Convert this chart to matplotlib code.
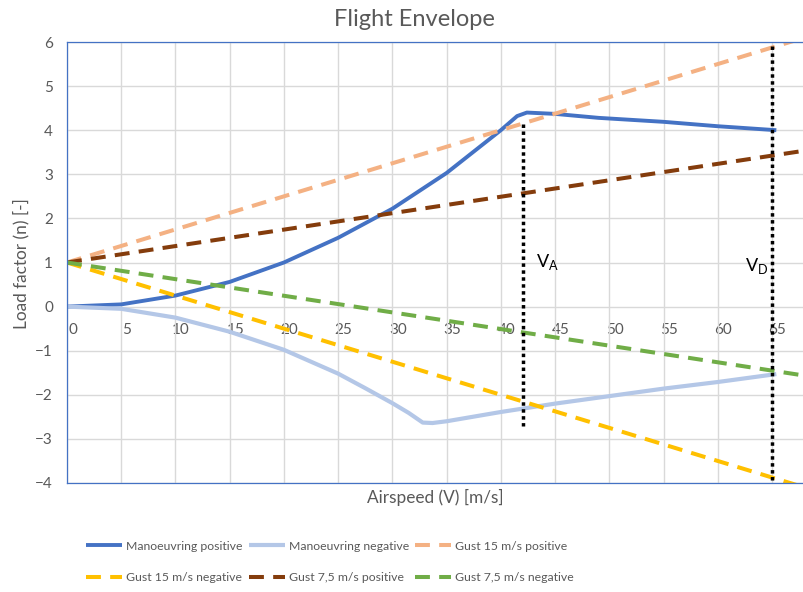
import matplotlib
matplotlib.use("Agg")
import matplotlib.pyplot as plt
from matplotlib.transforms import ScaledTranslation

plt.rcParams['font.family'] = ['Lato', 'DejaVu Sans']

# ---- data ----
man_pos_v = [0, 5, 10, 15, 20, 25, 30, 35, 40, 41.5, 42.4, 45, 49, 55, 60, 65.4]
man_pos_n = [0, 0.05, 0.25, 0.56, 1.0, 1.56, 2.22, 3.03, 4.0, 4.32, 4.4, 4.37, 4.28, 4.19, 4.09, 4.0]

man_neg_v = [0, 5, 10, 15, 20, 25, 27.5, 30, 31.5, 32.8, 33.7, 35, 40, 45, 50, 55, 60, 65.4]
man_neg_n = [0, -0.05, -0.25, -0.57, -0.98, -1.52, -1.85, -2.19, -2.41, -2.63, -2.64, -2.6,
             -2.39, -2.2, -2.03, -1.86, -1.71, -1.53]

gust15_pos_v = [0, 70]
gust15_pos_n = [1, 6.25]
gust15_neg_v = [0, 70]
gust15_neg_n = [1, -4.25]
gust75_pos_v = [0, 70]
gust75_pos_n = [1, 3.61]
gust75_neg_v = [0, 70]
gust75_neg_n = [1, -1.64]

va_v = [42, 42]
va_n = [4.15, -2.7]
vd_v = [65, 65]
vd_n = [5.9, -4.0]

x_ticks = list(range(0, 70, 5))
y_ticks = list(range(-4, 7, 1))

series_labels = ["Manoeuvring positive", "Manoeuvring negative", "Gust 15 m/s positive",
                 "Gust 15 m/s negative", "Gust 7,5 m/s positive", "Gust 7,5 m/s negative"]

# ---- figure ----
W, H = 804, 592
fig = plt.figure(figsize=(W / 100, H / 100), dpi=100)
px_per_unit = 10.846
ax_left, ax_right = 67, 67 + 70 * px_per_unit
ax_top, ax_bot = 42, 483
ax = fig.add_axes([ax_left / W, 1 - ax_bot / H, (ax_right - ax_left) / W, (ax_bot - ax_top) / H])
ax.set_xlim(0, 70)
ax.set_ylim(-4, 6)

grey = '#595959'
ax.set_xticks(x_ticks)
ax.set_yticks(y_ticks)
ax.grid(True, color='#D9D9D9', linewidth=1.0)
ax.set_axisbelow(True)
ax.tick_params(axis='x', bottom=False, labelbottom=False)
ax.tick_params(axis='y', length=0, pad=10, labelsize=11, labelcolor=grey)
for s in ['left', 'top', 'bottom']:
    ax.spines[s].set_color('#4472C4')
    ax.spines[s].set_linewidth(0.9)
ax.spines['right'].set_visible(False)

# x tick labels along the n = 0 line
sec = ax.secondary_xaxis(0.4)
sec.set_xticks(x_ticks)
sec.tick_params(length=0, pad=12, labelsize=11, labelcolor=grey)
sec.spines['bottom'].set_visible(False)
sec.spines['top'].set_visible(False)
off = ScaledTranslation(5.5 / 100, 0, fig.dpi_scale_trans)
for lab in sec.get_xticklabels():
    lab.set_transform(lab.get_transform() + off)

lw_d = 2.9
dash = (0, (3.7, 2.3))
l1, = ax.plot(man_pos_v, man_pos_n, color='#4472C4', lw=2.8, solid_capstyle='butt', solid_joinstyle='round')
l2, = ax.plot(man_neg_v, man_neg_n, color='#B4C7E7', lw=3.0, solid_capstyle='butt', solid_joinstyle='round')
l3, = ax.plot(gust15_pos_v, gust15_pos_n, color='#F4B183', lw=lw_d, linestyle=dash)
l4, = ax.plot(gust15_neg_v, gust15_neg_n, color='#FFC000', lw=lw_d, linestyle=dash)
l5, = ax.plot(gust75_pos_v, gust75_pos_n, color='#843C0C', lw=lw_d, linestyle=dash)
l6, = ax.plot(gust75_neg_v, gust75_neg_n, color='#70AD47', lw=lw_d, linestyle=dash)

ax.plot(va_v, va_n, color='black', lw=2.5, linestyle=(0, (1, 1)), dash_capstyle='butt')
ax.plot(vd_v, vd_n, color='black', lw=2.5, linestyle=(0, (1, 1)), dash_capstyle='butt')
ax.text(43.2, 1.0, r'V$_{\mathregular{A}}$', fontsize=13, color='black', ha='left', va='center')
ax.text(62.5, 0.92, r'V$_{\mathregular{D}}$', fontsize=13, color='black', ha='left', va='center')

# titles and labels
fig.text(414 / W, 1 - 20 / H, 'Flight Envelope', ha='center', va='center', fontsize=17, color=grey)
fig.text(21 / W, 1 - 264 / H, 'Load factor (n) [-]', ha='center', va='center', rotation=90, fontsize=12.4, color=grey)
fig.text(435 / W, 1 - 497 / H, 'Airspeed (V) [m/s]', ha='center', va='center', fontsize=12.4, color=grey)

# legend filled row by row (matplotlib fills columns first)
handles = [l1, l2, l3, l4, l5, l6]
order = [0, 3, 1, 4, 2, 5]
leg = fig.legend([handles[i] for i in order], [series_labels[i] for i in order], ncol=3, loc='center left',
                 bbox_to_anchor=(80 / W, 1 - 562 / H), frameon=False, fontsize=8.8,
                 handlelength=2.95, handletextpad=0.33, columnspacing=0.5, labelspacing=1.69,
                 labelcolor=grey, borderpad=0)

fig.savefig('out.png', dpi=100)
